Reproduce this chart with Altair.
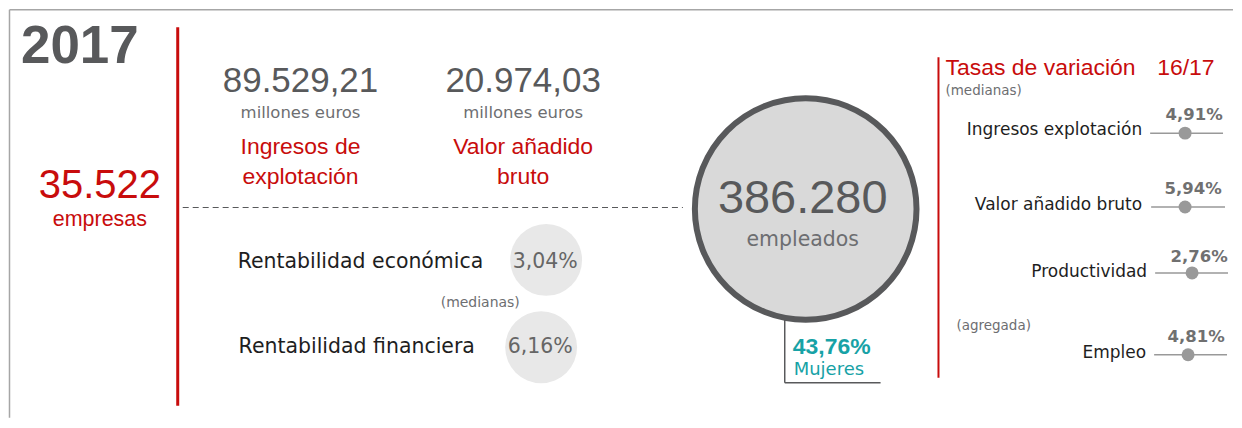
import altair as alt
import pandas as pd

# ---------------- data ----------------
YEAR = "2017"
EMPRESAS = 35522
EMPRESAS_LABEL = "empresas"
HEAD_VALUES = [89529.21, 20974.03]
HEAD_UNITS = ["millones euros", "millones euros"]
HEAD_LABELS = [["Ingresos de", "explotación"], ["Valor añadido", "bruto"]]
RENT_LABELS = ["Rentabilidad económica", "Rentabilidad financiera"]
RENT_VALUES = [3.04, 6.16]
RENT_NOTE = "(medianas)"
EMPLEADOS = 386280
EMPLEADOS_LABEL = "empleados"
MUJERES_PCT = 43.76
MUJERES_LABEL = "Mujeres"
VAR_TITLE = ["Tasas de variación", "16/17"]
VAR_NOTE = "(medianas)"
VAR_NOTE2 = "(agregada)"
VAR_LABELS = ["Ingresos explotación", "Valor añadido bruto", "Productividad", "Empleo"]
VAR_VALUES = [4.91, 5.94, 2.76, 4.81]


def es_num(v, dec=0):
    s = f"{v:,.{dec}f}"
    return s.replace(",", "X").replace(".", ",").replace("X", ".")


# ---------------- layout / style ----------------
W, H = 1226, 410
X0, Y0 = 8, 8
FONT = "Liberation Sans"
FONT2 = "DejaVu Sans"
RED = "#c80c0c"
DARK = "#58595b"
MID = "#6d6e71"
BLACK = "#1e1e1e"
TEAL = "#17a2a6"
SLIDER = "#999999"

xs = alt.Scale(domain=[X0, X0 + W], nice=False, zero=False)
ys = alt.Scale(domain=[Y0, Y0 + H], nice=False, zero=False, reverse=True)


def enc(chart, **extra):
    return chart.encode(
        x=alt.X("x:Q", scale=xs, axis=None),
        y=alt.Y("y:Q", scale=ys, axis=None),
        **extra,
    )


def txt(x, y, s, size, color, align="center", weight="normal", font=FONT):
    df = pd.DataFrame({"x": [x], "y": [y], "t": [s]})
    return enc(
        alt.Chart(df).mark_text(
            align=align, baseline="alphabetic", fontSize=size, color=color,
            fontWeight=weight, font=font,
        ),
        text="t:N",
    )


def rule(x1, y1, x2, y2, color, width, dash=None):
    df = pd.DataFrame({"x": [x1], "y": [y1], "x2": [x2], "y2": [y2]})
    kw = dict(color=color, strokeWidth=width)
    if dash:
        kw["strokeDash"] = dash
    return enc(alt.Chart(df).mark_rule(**kw), x2="x2:Q", y2="y2:Q")


def circle(x, y, r, fill, stroke=None, sw=0):
    # Vega symbol size is the area of the bounding square: (2r)^2
    df = pd.DataFrame({"x": [x], "y": [y]})
    kw = dict(shape="circle", filled=True, fill=fill, opacity=1,
              size=(2 * r) ** 2)
    if stroke:
        kw.update(stroke=stroke, strokeWidth=sw, strokeOpacity=1)
    else:
        kw.update(strokeWidth=0)
    return enc(alt.Chart(df).mark_point(**kw))


layers = []
# frame
layers.append(rule(8.5, 9.5, X0 + W, 9.5, "#a6a6a6", 1.5))
layers.append(rule(8.5, 9.5, 8.5, Y0 + H, "#a6a6a6", 1.5))
# red separators
layers.append(rule(177, 27, 177, 406, RED, 3))
layers.append(rule(939, 57, 939, 378, RED, 2))
# dashed divider
layers.append(rule(182, 207.5, 683, 207.5, DARK, 1.2, [6, 4]))

# left block
layers.append(txt(20, 63, YEAR, 53, DARK, align="left", weight="bold"))
layers.append(txt(99, 198, es_num(EMPRESAS), 40, RED))
layers.append(txt(99, 226, EMPRESAS_LABEL, 21.5, RED))

# headline figures
for cx, v, u, lab in zip([300, 523], HEAD_VALUES, HEAD_UNITS, HEAD_LABELS):
    layers.append(txt(cx, 92, es_num(v, 2), 35, DARK))
    layers.append(txt(cx, 118, u, 16.5, MID, font=FONT2))
    layers.append(txt(cx, 154, lab[0], 23, RED))
    layers.append(txt(cx, 184, lab[1], 23, RED))

# rentabilidad
rent_pos = [(237, 268, 546, 260), (238, 353, 541, 347.5)]
for (lx, ly, cx, cy), lab, v in zip(rent_pos, RENT_LABELS, RENT_VALUES):
    layers.append(circle(cx, cy, 36, "#e8e8e8"))
    layers.append(txt(lx, ly, lab, 20.5, BLACK, align="left", font=FONT2))
    layers.append(txt(cx - 1, ly, es_num(v, 2) + "%", 20.5, "#666666", font=FONT2))
layers.append(txt(480, 307, RENT_NOTE, 14, MID, font=FONT2))

# employees circle
layers.append(rule(785, 318, 785, 383, DARK, 1.5))
layers.append(rule(785, 383, 881, 383, DARK, 1.5))
layers.append(circle(806, 209, 111, "#d9d9d9", DARK, 6))
layers.append(txt(803, 213, es_num(EMPLEADOS), 47, DARK))
layers.append(txt(803, 246, EMPLEADOS_LABEL, 20.5, MID, font=FONT2))
layers.append(txt(793, 354, es_num(MUJERES_PCT, 2) + "%", 23, TEAL, align="left", weight="bold"))
layers.append(txt(794, 375, MUJERES_LABEL, 18, TEAL, align="left", font=FONT2))

# variation rates
layers.append(txt(946, 75, VAR_TITLE[0], 23, RED, align="left"))
layers.append(txt(1158, 75, VAR_TITLE[1], 23, RED, align="left"))
layers.append(txt(946, 95, VAR_NOTE, 13.5, MID, align="left", font=FONT2))
layers.append(txt(957, 330, VAR_NOTE2, 13.5, MID, align="left", font=FONT2))

rows = [
    # label right x, label baseline, line y, line x1, line x2, dot x, value cx, value baseline
    (1143, 135, 133, 1151, 1224, 1186, 1195, 120),
    (1143, 210, 207, 1152, 1226, 1186, 1194, 194),
    (1148, 277, 273, 1156, 1229, 1193, 1200, 262),
    (1147, 358, 355, 1155, 1228, 1189, 1197, 342),
]
for (lx, lb, ly, x1, x2, dx, vx, vb), lab, v in zip(rows, VAR_LABELS, VAR_VALUES):
    layers.append(txt(lx, lb, lab, 17, BLACK, align="right", font=FONT2))
    layers.append(rule(x1, ly, x2, ly, SLIDER, 1.5))
    layers.append(circle(dx, ly, 6.5, SLIDER))
    layers.append(txt(vx, vb, es_num(v, 2) + "%", 16.5, "#707070", weight="bold", font=FONT2))

chart = (
    alt.layer(*layers)
    .properties(width=W, height=H, padding=0, background="white")
    .configure_view(stroke=None)
)

chart.save("out.html", embed_options={"renderer": "svg", "actions": False})
